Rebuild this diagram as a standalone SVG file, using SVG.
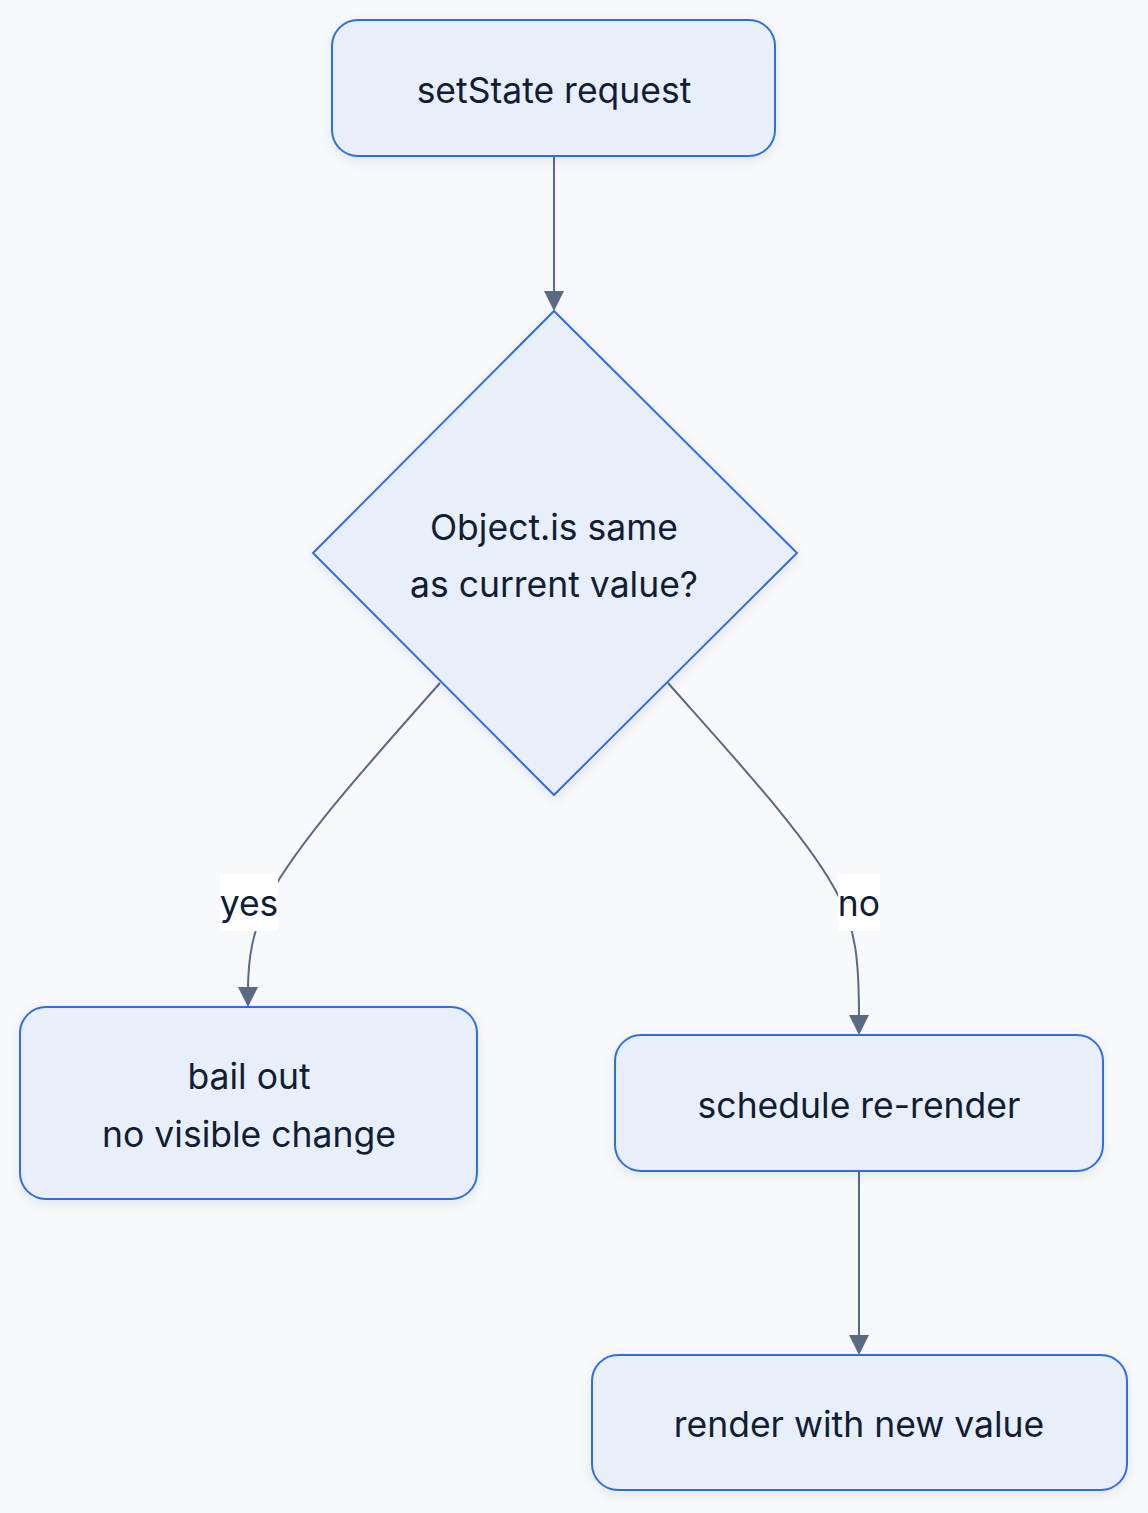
<svg xmlns="http://www.w3.org/2000/svg" width="1148" height="1513" viewBox="0 0 1148 1513">
<style>
.node{fill:#e8effa;stroke:#2f6fdb;stroke-width:2;filter:url(#sh)}
.lbl{font-family:Inter,"Noto Sans",sans-serif;font-size:35.5px;fill:#111d36;text-anchor:middle;dominant-baseline:central}
.edge{fill:none;stroke:#5a6a85;stroke-width:2}
.head{fill:#5a6a85}
.elbg{fill:#ffffff}
</style>
<defs>
<filter id="sh" x="-20%" y="-20%" width="140%" height="140%">
<feDropShadow dx="0" dy="4" stdDeviation="6" flood-color="#1e2a44" flood-opacity="0.08"/>
</filter>
</defs>
<rect width="1148" height="1513" fill="#f7f9fc"/>
<g id="edges">
<path class="edge" d="M554,156 L554,294"/>
<path class="head" d="M544,291 L564,291 L554,311 z"/>
<path class="edge" d="M440,683 C370,762 300,840 270,895 C252,930 248,960 248,990"/>
<path class="head" d="M238,987 L258,987 L248,1007 z"/>
<path class="edge" d="M668,683 C738,762 810,840 838,895 C856,930 859,960 859,1018"/>
<path class="head" d="M849,1015 L869,1015 L859,1035 z"/>
<path class="edge" d="M859,1171 L859,1338"/>
<path class="head" d="M849,1335 L869,1335 L859,1355 z"/>
<g id="label-yes"><rect class="elbg" x="220" y="874" width="58" height="57"/><text class="lbl" x="249" y="903">yes</text></g>
<g id="label-no"><rect class="elbg" x="838" y="874" width="42" height="57"/><text class="lbl" x="859" y="903">no</text></g>
</g>
<g id="n-setstate"><rect class="node" x="332" y="20" width="443" height="136" rx="26"/><text class="lbl" x="554" y="90">setState request</text></g>
<g id="n-decision"><path class="node" d="M554,311 L797,553 L554,795 L313,553 z"/><text class="lbl" x="554" y="527">Object.is same</text><text class="lbl" x="554" y="584">as current value?</text></g>
<g id="n-bail"><rect class="node" x="20" y="1007" width="457" height="192" rx="26"/><text class="lbl" x="249" y="1076">bail out</text><text class="lbl" x="249" y="1134">no visible change</text></g>
<g id="n-schedule"><rect class="node" x="615" y="1035" width="488" height="136" rx="26"/><text class="lbl" x="859" y="1105">schedule re-render</text></g>
<g id="n-render"><rect class="node" x="592" y="1355" width="535" height="135" rx="26"/><text class="lbl" x="859" y="1424">render with new value</text></g>
</svg>
